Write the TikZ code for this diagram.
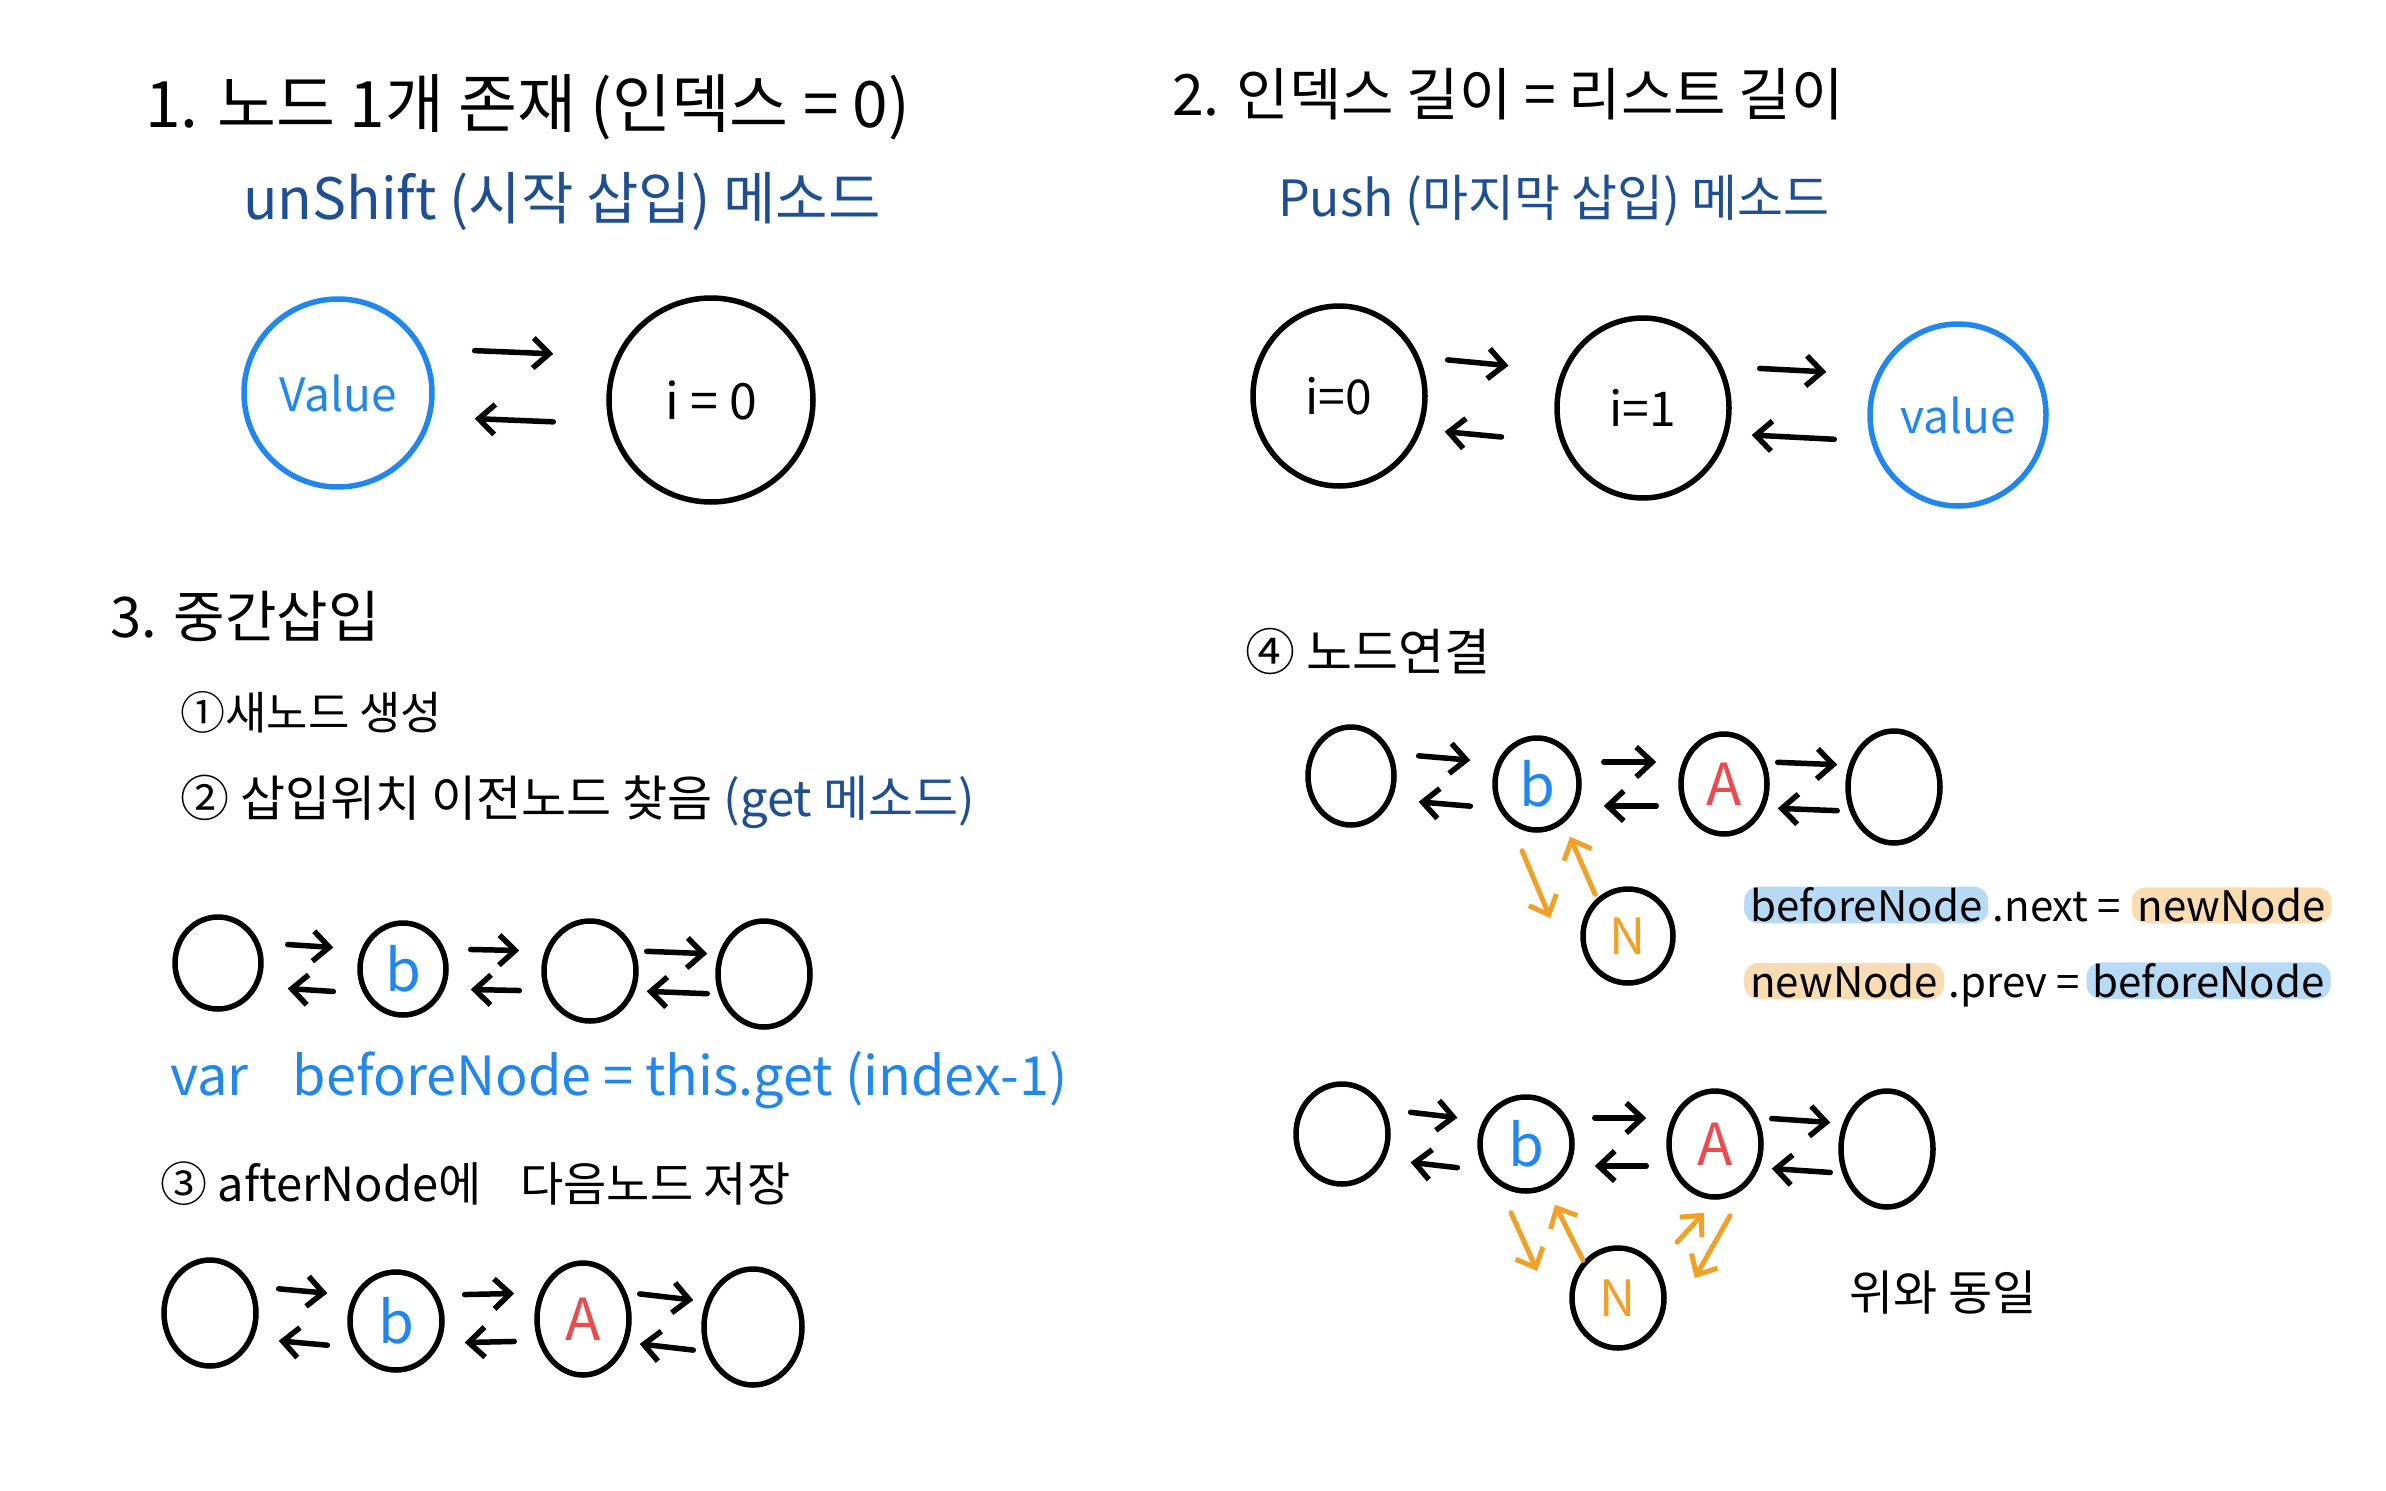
\documentclass[tikz,border=0pt]{standalone}
\usepackage{fontspec}
\setmainfont{Noto Sans CJK KR}
\usepackage{tikz}
\usetikzlibrary{arrows.meta}
\usetikzlibrary{positioning}
\usetikzlibrary{shapes.geometric}

\definecolor{navy}{HTML}{1F4F93}
\definecolor{cblue}{HTML}{2287EC}
\definecolor{cred}{HTML}{E94B4F}
\definecolor{orng}{HTML}{F0A12A}
\definecolor{hlblue}{HTML}{B7DBF7}
\definecolor{hlorange}{HTML}{F9DCB2}
\newcommand{\fsz}[1]{\fontsize{#1}{#1}\selectfont}

\tikzset{
  cell/.style={ellipse, draw, line width=5.5pt, inner sep=0pt},
  lnk/.style={line width=5.5pt, line cap=round, -{Straight Barb[length=16pt,width=30pt]}},
  olnk/.style={lnk, draw=orng, line width=5pt},
  gap/.style={shorten <=#1, shorten >=#1},
  txt/.style={anchor=west, inner sep=0pt},
  hlb/.style={fill=hlblue, rounded corners=14pt, inner xsep=6pt, inner ysep=1pt},
  hlo/.style={fill=hlorange, rounded corners=14pt, inner xsep=6pt, inner ysep=1pt}
}

\begin{document}
\begin{tikzpicture}[x=1pt,y=-1pt]
\useasboundingbox (0,0) rectangle (2386,1491);

% 1. unShift
\node[txt, font=\fsz{64}] (t1) at (145,107) {1. 노드 1개 존재 (인덱스 = 0)};
\node[txt, font=\fsz{57}, text=navy] (t1b) at (243,202) {unShift (시작 삽입) 메소드};
\node[cell, draw=cblue, text=cblue, minimum size=188, font=\fsz{46}] (v1) at (338,393) {Value};
\node[cell, minimum size=204, font=\fsz{50}] (i1) at (711,400) {i = 0};
\draw[lnk, shorten <=40pt, shorten >=53pt] ([yshift=44pt]v1.east) -- ([yshift=44pt]i1.west);
\draw[lnk, shorten <=53pt, shorten >=40pt] ([yshift=-24pt]i1.west) -- ([yshift=-24pt]v1.east);

% 2. push
\node[txt, font=\fsz{57}] (t2) at (1172,94) {2. 인덱스 길이 = 리스트 길이};
\node[txt, font=\fsz{50}, text=navy] (t2b) at (1278,201) {Push (마지막 삽입) 메소드};
\node[cell, minimum width=172, minimum height=180, font=\fsz{48}] (j0) at (1339,396) {i=0};
\node[cell, minimum width=172, minimum height=180, font=\fsz{48}] (j1) at (1643,408) {i=1};
\node[cell, draw=cblue, text=cblue, minimum width=176, minimum height=182, font=\fsz{46}] (jv) at (1958,415) {value};
\draw[lnk, shorten <=20pt, shorten >=46pt] ([yshift=38pt]j0.east) -- ([yshift=38pt]j1.west);
\draw[lnk, shorten <=53pt, shorten >=17pt] ([yshift=-34pt]j1.west) -- ([yshift=-34pt]j0.east);
\draw[lnk, shorten <=28pt, shorten >=41pt] ([yshift=41pt]j1.east) -- ([yshift=41pt]jv.west);
\draw[lnk, shorten <=33pt, shorten >=20pt] ([yshift=-26pt]jv.west) -- ([yshift=-26pt]j1.east);

% 3. middle insert
\node[txt, font=\fsz{56}] (t3) at (110,616) {3. 중간삽입};
\node[txt, font=\fsz{45}] (t3a) at (180,712) {①새노드 생성};
\node[txt, font=\fsz{49}] (t3b) at (180,802) {② 삽입위치 이전노드 찾음 {\color{navy}(get 메소드)}};

\node[cell, minimum width=86, minimum height=92] (p1) at (218,963) {};
\node[cell, minimum width=86, minimum height=92, text=cblue, font=\fsz{58}] (p2) at (403,969) {b};
\node[cell, minimum width=92, minimum height=100] (p3) at (590,971) {};
\node[cell, minimum width=92, minimum height=106] (p4) at (764,974) {};
\draw[lnk, gap=24pt] ([yshift=20pt]p1.east) -- ([yshift=20pt]p2.west);
\draw[lnk, gap=24pt] ([yshift=-24pt]p2.west) -- ([yshift=-24pt]p1.east);
\draw[lnk, gap=22pt] ([yshift=20pt]p2.east) -- ([yshift=20pt]p3.west);
\draw[lnk, gap=22pt] ([yshift=-20pt]p3.west) -- ([yshift=-20pt]p2.east);
\draw[lnk, gap=8pt] ([yshift=20pt]p3.east) -- ([yshift=20pt]p4.west);
\draw[lnk, gap=8pt] ([yshift=-20pt]p4.west) -- ([yshift=-20pt]p3.east);

\node[txt, font=\fsz{54}, text=cblue] (t3c) at (170,1080) {var\hspace{0.6em} beforeNode = this.get (index-1)};
\node[txt, font=\fsz{47}] (t3d) at (160,1184) {③ afterNode에\hspace{0.6em} 다음노드 저장};

\node[cell, minimum width=92, minimum height=106] (q1) at (210,1313) {};
\node[cell, minimum width=92, minimum height=98, text=cblue, font=\fsz{58}] (q2) at (396,1321) {b};
\node[cell, minimum width=92, minimum height=112, text=cred, font=\fsz{58}] (q3) at (583,1319) {A};
\node[cell, minimum width=98, minimum height=116] (q4) at (753,1327) {};
\draw[lnk, gap=20pt] ([yshift=26pt]q1.east) -- ([yshift=26pt]q2.west);
\draw[lnk, gap=20pt] ([yshift=-26pt]q2.west) -- ([yshift=-26pt]q1.east);
\draw[lnk, gap=20pt] ([yshift=26pt]q2.east) -- ([yshift=26pt]q3.west);
\draw[lnk, gap=20pt] ([yshift=-22pt]q3.west) -- ([yshift=-22pt]q2.east);
\draw[lnk, gap=8pt] ([yshift=26pt]q3.east) -- ([yshift=26pt]q4.west);
\draw[lnk, gap=8pt] ([yshift=-24pt]q4.west) -- ([yshift=-24pt]q3.east);

% 4. link nodes
\node[txt, font=\fsz{50}] (t4) at (1245,651) {④ 노드연결};

\node[cell, minimum width=86, minimum height=98] (r1) at (1351,776) {};
\node[cell, minimum width=84, minimum height=92, text=cblue, font=\fsz{58}] (r2) at (1537,784) {b};
\node[cell, minimum width=86, minimum height=100, text=cred, font=\fsz{58}] (r3) at (1724,784) {A};
\node[cell, minimum width=92, minimum height=112] (r4) at (1894,787) {};
\node[cell, minimum width=90, minimum height=94, text=orng, font=\fsz{50}] (rn) at (1628,936) {N};
\draw[lnk, gap=22pt] ([yshift=22pt]r1.east) -- ([yshift=22pt]r2.west);
\draw[lnk, gap=22pt] ([yshift=-24pt]r2.west) -- ([yshift=-24pt]r1.east);
\draw[lnk, gap=22pt] ([yshift=22pt]r2.east) -- ([yshift=22pt]r3.west);
\draw[lnk, gap=22pt] ([yshift=-22pt]r3.west) -- ([yshift=-22pt]r2.east);
\draw[lnk, gap=8pt] ([yshift=22pt]r3.east) -- ([yshift=22pt]r4.west);
\draw[lnk, gap=8pt] ([yshift=-24pt]r4.west) -- ([yshift=-24pt]r3.east);
\draw[olnk] ([xshift=-15pt,yshift=-18pt]r2.south) -- ([xshift=-30pt,yshift=18pt]rn.west);
\draw[olnk] ([xshift=-33pt,yshift=-8pt]rn.north) -- ([xshift=33pt,yshift=-4pt]r2.south);

\node[hlb, anchor=west] (bn1) at (1744,905) {\fsz{42}beforeNode};
\node[base right=4pt of bn1, inner sep=0pt, font=\fsz{42}] (nx1) {.next =};
\node[hlo, base right=10pt of nx1, font=\fsz{42}] (nn1) {newNode};
\node[hlo, anchor=west, font=\fsz{42}] (nn2) at (1744,981) {newNode};
\node[base right=4pt of nn2, inner sep=0pt, font=\fsz{42}] (pv2) {.prev =};
\node[hlb, base right=6pt of pv2, font=\fsz{42}] (bn2) {beforeNode};

\node[cell, minimum width=92, minimum height=100] (s1) at (1342,1134) {};
\node[cell, minimum width=92, minimum height=94, text=cblue, font=\fsz{58}] (s2) at (1526,1144) {b};
\node[cell, minimum width=92, minimum height=106, text=cred, font=\fsz{58}] (s3) at (1715,1144) {A};
\node[cell, minimum width=92, minimum height=116] (s4) at (1887,1149) {};
\node[cell, minimum width=92, minimum height=100, text=orng, font=\fsz{50}] (sn) at (1618,1298) {N};
\draw[lnk, gap=20pt] ([yshift=24pt]s1.east) -- ([yshift=24pt]s2.west);
\draw[lnk, gap=20pt] ([yshift=-26pt]s2.west) -- ([yshift=-26pt]s1.east);
\draw[lnk, gap=20pt] ([yshift=26pt]s2.east) -- ([yshift=26pt]s3.west);
\draw[lnk, gap=20pt] ([yshift=-22pt]s3.west) -- ([yshift=-22pt]s2.east);
\draw[lnk, gap=8pt] ([yshift=26pt]s3.east) -- ([yshift=26pt]s4.west);
\draw[lnk, gap=8pt] ([yshift=-24pt]s4.west) -- ([yshift=-24pt]s3.east);
\draw[olnk] ([xshift=-15pt,yshift=-19pt]s2.south) -- ([xshift=-32pt,yshift=27pt]sn.west);
\draw[olnk] ([xshift=-35pt,yshift=-15pt]sn.north) -- ([xshift=29pt,yshift=-11pt]s2.south);
\draw[olnk] ([xshift=59pt,yshift=3pt]sn.north) -- ([xshift=-11pt,yshift=-13pt]s3.south);
\draw[olnk] ([xshift=15pt,yshift=-16pt]s3.south) -- ([xshift=28pt,yshift=20pt]sn.east);

\node[txt, font=\fsz{48}] (same) at (1849,1293) {위와 동일};
\end{tikzpicture}
\end{document}
